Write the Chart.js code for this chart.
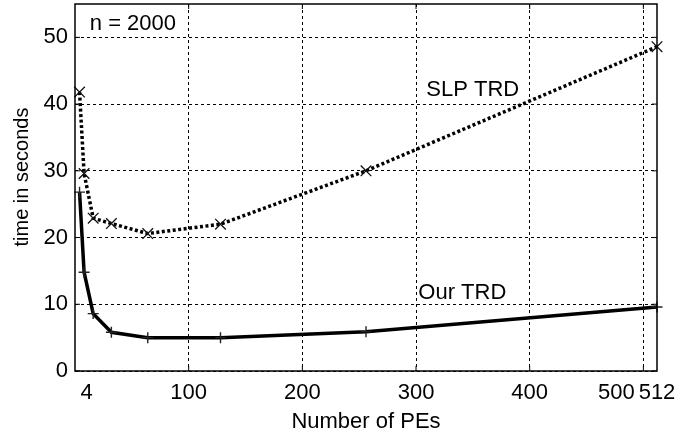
<!DOCTYPE html>
<html>
<head>
<meta charset="utf-8">
<script src="https://cdn.jsdelivr.net/npm/chart.js@4/dist/chart.umd.min.js"></script>
<style>
    html, body { margin: 0; padding: 0; background: #fff; }
    #wrap { width: 677px; height: 438px; }
</style>
</head>
<body>
<div id="wrap"><canvas id="chart"></canvas></div>
<script>
const FONT = '"Liberation Sans", Arial, Helvetica, sans-serif';

// number of PEs
const pes = [4, 8, 16, 32, 64, 128, 256, 512];
// time in seconds
const slpTrd = [41.8, 29.6, 22.9, 22.1, 20.6, 22.0, 30.0, 48.6];
const ourTrd = [26.8, 14.8, 8.6, 5.8, 5.0, 5.0, 5.9, 9.6];

const xTickLabels = [4, 100, 200, 300, 400, 500, 512];
const xGridValues = [100, 200, 300, 400, 500];
const yTickValues = [0, 10, 20, 30, 40, 50];

// little nudges so the crowded labels don't collide (like the original)
const xLabelShift = { 4: 7, 500: -27 };

const textNotes = [
    { text: 'n = 2000', x: 13, y: 52 },
    { text: 'SLP TRD', x: 309, y: 42.1 },
    { text: 'Our TRD', x: 302, y: 11.7 },
];

const extras = {
    id: 'extras',
    afterDraw(chart) {
        const ctx = chart.ctx;
        const xs = chart.scales.x, ys = chart.scales.y;
        const a = chart.chartArea;
        ctx.save();
        // frame
        ctx.strokeStyle = '#000';
        ctx.lineWidth = 1.5;
        ctx.strokeRect(a.left, a.top, a.right - a.left, a.bottom - a.top);
        // inward tick marks
        ctx.lineWidth = 1;
        ctx.beginPath();
        yTickValues.forEach(v => {
            const py = ys.getPixelForValue(v);
            ctx.moveTo(a.left, py); ctx.lineTo(a.left + 5, py);
            ctx.moveTo(a.right, py); ctx.lineTo(a.right - 5, py);
        });
        xGridValues.forEach(v => {
            const px = xs.getPixelForValue(v);
            ctx.moveTo(px, a.bottom); ctx.lineTo(px, a.bottom - 5);
            ctx.moveTo(px, a.top); ctx.lineTo(px, a.top + 5);
        });
        ctx.stroke();
        // x tick labels
        ctx.fillStyle = '#000';
        ctx.font = '22px ' + FONT;
        ctx.textAlign = 'center';
        ctx.textBaseline = 'middle';
        xTickLabels.forEach(v => {
            const px = xs.getPixelForValue(v) + (xLabelShift[v] || 0);
            ctx.fillText(String(v), px, a.bottom + 22);
        });
        // in-plot notes
        ctx.textAlign = 'left';
        textNotes.forEach(n => {
            ctx.fillText(n.text, xs.getPixelForValue(n.x), ys.getPixelForValue(n.y));
        });
        // y axis title
        ctx.font = '20px ' + FONT;
        ctx.translate(22, 177);
        ctx.rotate(-Math.PI / 2);
        ctx.textAlign = 'center';
        ctx.fillText('time in seconds', 0, 0);
        ctx.restore();
    }
};

new Chart(document.getElementById('chart'), {
    type: 'line',
    data: {
        labels: pes,
        datasets: [
            {
                label: 'SLP TRD',
                data: pes.map((p, i) => ({ x: p, y: slpTrd[i] })),
                borderColor: '#000',
                borderWidth: 3.5,
                borderDash: [3, 2.5],
                pointStyle: 'crossRot',
                pointRadius: 7.5,
                pointBorderWidth: 1.3,
                pointBorderColor: '#111',
                tension: 0,
                clip: false,
            },
            {
                label: 'Our TRD',
                data: pes.map((p, i) => ({ x: p, y: ourTrd[i] })),
                borderColor: '#000',
                borderWidth: 3.5,
                pointStyle: 'cross',
                pointRadius: 5.5,
                pointBorderWidth: 1.4,
                pointBorderColor: '#222',
                tension: 0,
                clip: false,
            },
        ],
    },
    options: {
        responsive: true,
        maintainAspectRatio: false,
        animation: false,
        events: [],
        layout: { autoPadding: false, padding: { left: 0, right: 20, top: 4, bottom: 0 } },
        plugins: {
            legend: { display: false },
            tooltip: { enabled: false },
        },
        scales: {
            x: {
                type: 'linear',
                min: 0,
                max: 512,
                afterBuildTicks: s => { s.ticks = xGridValues.map(v => ({ value: v })); },
                afterFit: s => { s.height = 67; s.paddingLeft = 0; s.paddingRight = 0; },
                ticks: { display: false },
                border: { display: false, dash: [3, 3] },
                grid: {
                    color: '#000',
                    lineWidth: 1,
                    drawTicks: false,
                },
                title: {
                    display: true,
                    text: 'Number of PEs',
                    color: '#000',
                    font: { size: 22, family: FONT },
                    padding: { top: 0, bottom: 3 },
                },
            },
            y: {
                type: 'linear',
                min: 0,
                max: 55,
                afterBuildTicks: s => { s.ticks = yTickValues.map(v => ({ value: v })); },
                afterFit: s => { s.width = 75; s.paddingTop = 0; s.paddingBottom = 0; },
                border: { display: false, dash: [3, 3] },
                grid: {
                    color: '#000',
                    lineWidth: 1,
                    drawTicks: false,
                },
                ticks: {
                    color: '#000',
                    padding: 7,
                    font: { size: 22, family: FONT },
                },
                title: { display: false },
            },
        },
    },
    plugins: [extras],
});
</script>
</body>
</html>
